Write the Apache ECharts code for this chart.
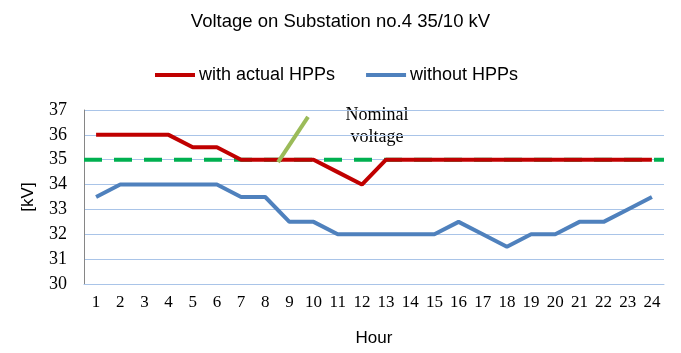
<!DOCTYPE html>
<html>
<head>
<meta charset="utf-8">
<script src="https://cdn.jsdelivr.net/npm/echarts@6/dist/echarts.min.js"></script>
<style>
  html, body { margin: 0; padding: 0; background: #fff; }
  #chart { width: 681px; height: 353px; }
</style>
</head>
<body>
<div id="chart"></div>
<script>
// hours on the x axis
const hours = ['1','2','3','4','5','6','7','8','9','10','11','12','13','14','15','16','17','18','19','20','21','22','23','24']
// voltage [kV]
const withHpps = [36, 36, 36, 36, 35.5, 35.5, 35, 35, 35, 35, 34.5, 34, 35, 35, 35, 35, 35, 35, 35, 35, 35, 35, 35, 35]
const withoutHpps = [33.5, 34, 34, 34, 34, 34, 33.5, 33.5, 32.5, 32.5, 32, 32, 32, 32, 32, 32.5, 32, 31.5, 32, 32, 32.5, 32.5, 33, 33.5]
// nominal voltage, drawn across the whole plot (hour span 0.5 .. 24.5)
const nominal = [[0.5, 35], [24.5, 35]]
// pointer from the dashed line to the label (hour, kV)
const pointer = [[8.53, 34.9], [9.77, 36.72]]

const el = echarts.init(document.getElementById('chart'))
const serif = '"Liberation Serif", "DejaVu Serif", serif'
const sans = '"Liberation Sans", "DejaVu Sans", sans-serif'

const option = {
  animation: false,
  title: {
    text: 'Voltage on Substation no.4 35/10 kV',
    left: 'center',
    top: 7,
    textStyle: {fontFamily: sans, fontSize: 18.5, fontWeight: 'normal', color: '#000'}
  },
  legend: {
    top: 61,
    left: 150,
    itemWidth: 40,
    itemHeight: 4,
    itemGap: 31,
    icon: 'rect',
    data: ['with actual HPPs', 'without HPPs'],
    textStyle: {fontFamily: sans, fontSize: 18, color: '#000', padding: [0, 0, 0, -1]}
  },
  grid: {left: 84, right: 17, top: 110, bottom: 69},
  xAxis: [
    {
      type: 'category',
      data: hours,
      boundaryGap: true,
      name: 'Hour',
      nameLocation: 'middle',
      nameGap: 46,
      nameTextStyle: {fontFamily: sans, fontSize: 17, color: '#000'},
      axisLine: {show: true, lineStyle: {color: '#a9c4e8', width: 1}},
      axisTick: {show: false},
      axisLabel: {fontFamily: serif, fontSize: 17, color: '#000', margin: 10, interval: 0}
    },
    {
      type: 'value',
      min: 0.5,
      max: 24.5,
      show: false
    }
  ],
  yAxis: {
    type: 'value',
    min: 30,
    max: 37,
    interval: 1,
    name: '[kV]',
    nameLocation: 'middle',
    nameGap: 47,
    nameRotate: 90,
    nameTextStyle: {fontFamily: sans, fontSize: 17, color: '#000'},
    axisLine: {show: true, lineStyle: {color: '#868686', width: 1}},
    axisTick: {show: false},
    axisLabel: {fontFamily: serif, fontSize: 18, color: '#000', margin: 17},
    splitLine: {lineStyle: {color: '#a9c4e8', width: 1}}
  },
  series: [
    {
      name: 'nominal',
      type: 'line',
      xAxisIndex: 1,
      data: nominal,
      symbol: 'none',
      lineStyle: {color: '#00b050', width: 4, type: [18, 12], cap: 'butt'},
      z: 2
    },
    {
      name: 'without HPPs',
      type: 'line',
      data: withoutHpps,
      symbol: 'none',
      color: '#4f81bd',
      lineStyle: {width: 4, color: '#4f81bd'},
      z: 3
    },
    {
      name: 'with actual HPPs',
      type: 'line',
      data: withHpps,
      symbol: 'none',
      color: '#c00000',
      lineStyle: {width: 4, color: '#c00000'},
      z: 4
    },
    {
      name: 'pointer',
      type: 'line',
      xAxisIndex: 1,
      data: pointer,
      symbol: 'none',
      lineStyle: {width: 4, color: '#9bbb59', cap: 'butt'},
      z: 5
    }
  ],
  graphic: [
    {
      type: 'text',
      x: 377,
      y: 104,
      style: {
        text: 'Nominal\nvoltage',
        fontFamily: serif,
        fontSize: 18,
        lineHeight: 22,
        align: 'center',
        fill: '#000'
      }
    }
  ]
}
el.setOption(option)
</script>
</body>
</html>
